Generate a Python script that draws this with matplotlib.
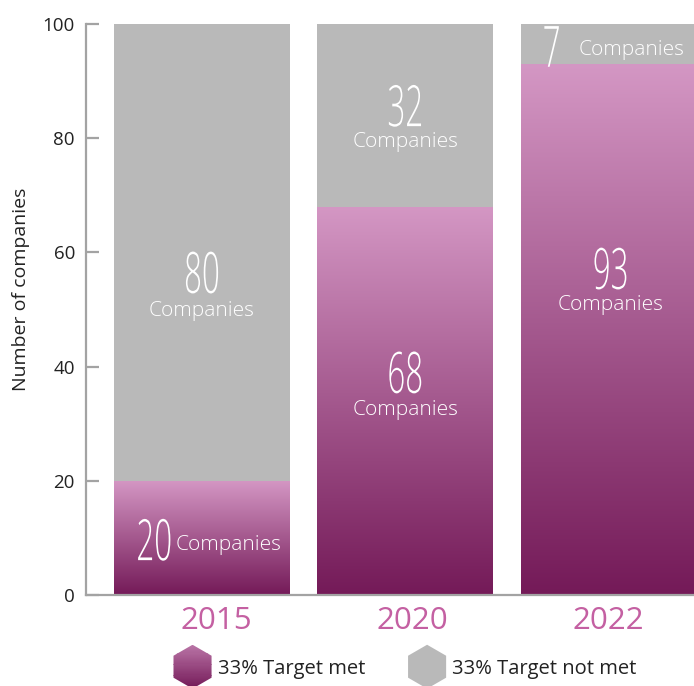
import numpy as np
import matplotlib
matplotlib.use("Agg")
import matplotlib.pyplot as plt
from matplotlib.colors import LinearSegmentedColormap
from matplotlib.patches import RegularPolygon, Rectangle, Patch
from matplotlib.legend_handler import HandlerBase
from matplotlib.patheffects import AbstractPathEffect
from matplotlib.transforms import Affine2D

# ---- data -------------------------------------------------------------
years = ["2015", "2020", "2022"]
target_met = [20, 68, 93]
target_not_met = [80, 32, 7]
series_labels = ["33% Target met", "33% Target not met"]
y_ticks = [0, 20, 40, 60, 80, 100]

# ---- style ------------------------------------------------------------
GRAY = "#b9b9b9"
AXIS_GRAY = "#a3a3a3"
TEXT_DARK = "#222222"
PURPLE_DARK = "#741a58"
PURPLE_LIGHT = "#d497c4"
YEAR_COLOR = "#c460a2"
BASE_FONT = ["Open Sans", "DejaVu Sans"]

cmap = LinearSegmentedColormap.from_list("met", [PURPLE_DARK, PURPLE_LIGHT])

plt.rcParams["font.family"] = BASE_FONT


class Stretch(AbstractPathEffect):
    """Rescale a text's glyphs around its anchor point (tall, narrow numerals)."""

    def __init__(self, text, sx, sy):
        super().__init__()
        self.text = text
        self.sx = sx
        self.sy = sy

    def draw_path(self, renderer, gc, tpath, affine, rgbFace=None):
        x0, y0 = self.text.get_transform().transform(self.text.get_position())
        scale = (Affine2D().translate(-x0, -y0)
                 .scale(self.sx, self.sy).translate(x0, y0))
        renderer.draw_path(gc, tpath, affine + scale, rgbFace)


fig = plt.figure(figsize=(6.94, 6.86), dpi=100)
ax = fig.add_axes([0.1239, 0.1327, 0.8761, 0.8324])

x = np.arange(len(years))
width = 0.865

# purple segments: transparent bars used as clip shapes for a vertical gradient
met_bars = ax.bar(x, target_met, width, color="none", edgecolor="none", zorder=2)
grad = np.linspace(0, 1, 256).reshape(-1, 1)
for bar in met_bars:
    x0, y0 = bar.get_x(), bar.get_y()
    im = ax.imshow(grad, cmap=cmap, origin="lower", aspect="auto",
                   extent=[x0, x0 + bar.get_width(), y0, y0 + bar.get_height()],
                   zorder=2)
    im.set_clip_path(bar)

ax.bar(x, target_not_met, width, bottom=target_met, color=GRAY,
       edgecolor="none", zorder=2)

ax.set_xlim(-0.57, 2.42)
ax.set_ylim(0, 100)

# ---- segment annotations ---------------------------------------------
# value, number anchor (x, baseline y, ha), "Companies" anchor (x, baseline y, ha)
annotations = [
    (target_not_met[0], (0.0, 52.9, "center"), (0.0, 48.9, "center")),
    (target_met[0], (-0.147, 6.1, "right"), (-0.127, 7.9, "left")),
    (target_not_met[1], (1.0, 82.1, "center"), (1.0, 78.5, "center")),
    (target_met[1], (1.0, 35.4, "center"), (1.0, 31.5, "center")),
    (target_not_met[2], (1.72, 92.5, "center"), (1.853, 94.6, "left")),
    (target_met[2], (2.01, 53.6, "center"), (2.01, 49.9, "center")),
]
NUM_SIZE = 28
for val, (nx, ny, nha), (cx, cy, cha) in annotations:
    t = ax.text(nx, ny, f"{val}", ha=nha, va="baseline", color="white",
                fontsize=NUM_SIZE, fontweight="light", zorder=3)
    t.set_path_effects([Stretch(t, 0.55 * 41 / NUM_SIZE, 41 / NUM_SIZE)])
    ax.text(cx, cy, "Companies", ha=cha, va="baseline", color="white",
            fontsize=15, fontweight="light", zorder=3)

# ---- axes styling ----------------------------------------------------
for side in ("top", "right"):
    ax.spines[side].set_visible(False)
for side in ("left", "bottom"):
    ax.spines[side].set_color(AXIS_GRAY)
    ax.spines[side].set_linewidth(1.6)

ax.set_yticks(y_ticks)
ax.tick_params(axis="y", direction="in", length=9.5, width=1.6,
               color=AXIS_GRAY, labelsize=13.5, pad=8, labelcolor=TEXT_DARK)

# year labels sit slightly off the bar centres
year_label_pos = [0.07, 1.035, 2.0]
ax.set_xticks(year_label_pos)
ax.set_xticklabels(years)
ax.tick_params(axis="x", length=0, pad=8, labelsize=22.5, labelcolor=YEAR_COLOR)

ax.set_ylabel("Number of companies", fontsize=14, color=TEXT_DARK)
ax.yaxis.set_label_coords(-0.092, 0.536)


# ---- legend with hexagon handles ---------------------------------------
class HexHandler(HandlerBase):
    def __init__(self, colors):
        super().__init__()
        self.colors = colors

    def create_artists(self, legend, orig_handle, xdescent, ydescent,
                       width, height, fontsize, trans):
        r = width / np.sqrt(3)
        cx = width / 2 - xdescent
        cy = height / 2 - ydescent
        hexagon = RegularPolygon((cx, cy), 6, radius=r, facecolor="none",
                                 edgecolor="none", transform=trans)
        artists = [hexagon]
        n = len(self.colors)
        step = 2 * r / n
        for i, col in enumerate(self.colors):
            strip = Rectangle((cx - r, cy - r + i * step), 2 * r, step * 1.05,
                              facecolor=col, edgecolor="none", transform=trans)
            strip.set_clip_path(hexagon)
            artists.append(strip)
        return artists


met_handle = Patch(label=series_labels[0])
not_met_handle = Patch(label=series_labels[1])
grad_colors = [cmap(v) for v in np.linspace(0.0, 0.72, 40)]
fig.legend(handles=[met_handle, not_met_handle],
           handler_map={met_handle: HexHandler(grad_colors),
                        not_met_handle: HexHandler([GRAY])},
           loc="center", bbox_to_anchor=(0.5836, 0.0255), ncol=2, frameon=False,
           fontsize=14.5, handlelength=1.89, handleheight=0.9,
           handletextpad=0.3, columnspacing=2.14, labelcolor=TEXT_DARK)

fig.savefig("out.png", dpi=100)
